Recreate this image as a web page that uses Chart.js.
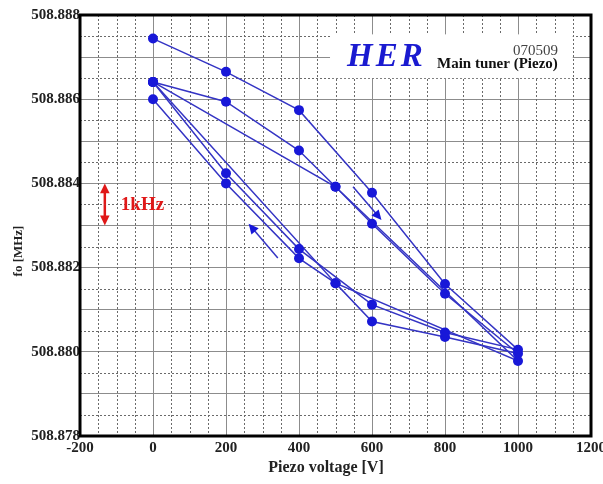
<!DOCTYPE html>
<html>
<head>
<meta charset="utf-8">
<title>HER Main tuner (Piezo)</title>
<script src="https://cdn.jsdelivr.net/npm/chart.js"></script>
<style>
  html, body { margin: 0; padding: 0; background: #fff; }
</style>
</head>
<body>
<canvas id="tuner" width="603" height="484"></canvas>
<script>
// Piezo voltage [V] vs. resonant frequency fo [MHz], three up/down sweeps.
const loopA_volt = [0, 200, 400, 600, 800, 1000, 800, 600, 400, 200, 0];
const loopA_freq = [508.88744, 508.88665, 508.88574, 508.88378, 508.88161, 508.88005,
                    508.88046, 508.88112, 508.88244, 508.88424, 508.88641];

const loopB_volt = [0, 200, 400, 500, 600, 800, 1000, 800, 600, 500, 400, 200, 0];
const loopB_freq = [508.88641, 508.88594, 508.88478, 508.88392, 508.88304, 508.88138, 508.87996,
                    508.88035, 508.88072, 508.88163, 508.88222, 508.88400, 508.88600];

const loopC_volt = [0, 500, 1000, 500, 0];
const loopC_freq = [508.88641, 508.88392, 508.87978, 508.88163, 508.88641];

// axis ranges / ticks
const voltMin = -200, voltMax = 1200, voltStep = 200;
const freqMin = 508.878, freqMax = 508.888, freqStep = 0.001;

// direction arrows (tail volt, tail freq, tip volt, tip freq)
const sweepArrows = [
  [548, 508.88392, 626, 508.88313],
  [342, 508.88223, 262, 508.88304]
];

const blue = '#1818d8';
const lineBlue = '#3434c4';
const serif = '"Liberation Serif", "Times New Roman", serif';

function toPoints(xs, ys) {
  return xs.map((v, i) => ({ x: v, y: ys[i] }));
}

function loopDataset(xs, ys) {
  return {
    data: toPoints(xs, ys),
    showLine: true,
    borderColor: lineBlue,
    borderWidth: 1.5,
    backgroundColor: blue,
    pointBackgroundColor: blue,
    pointBorderWidth: 0,
    pointRadius: 5,
    tension: 0
  };
}

function arrow(ctx, x1, y1, x2, y2, head) {
  const ang = Math.atan2(y2 - y1, x2 - x1);
  ctx.beginPath();
  ctx.moveTo(x1, y1);
  ctx.lineTo(x2 - Math.cos(ang) * head * 0.8, y2 - Math.sin(ang) * head * 0.8);
  ctx.stroke();
  ctx.beginPath();
  ctx.moveTo(x2, y2);
  ctx.lineTo(x2 - head * Math.cos(ang - 0.45), y2 - head * Math.sin(ang - 0.45));
  ctx.lineTo(x2 - head * Math.cos(ang + 0.45), y2 - head * Math.sin(ang + 0.45));
  ctx.closePath();
  ctx.fill();
}

const decor = {
  id: 'decor',
  beforeDatasetsDraw(chart) {
    const ctx = chart.ctx, xs = chart.scales.x, ys = chart.scales.y, a = chart.chartArea;
    ctx.save();
    // dotted minor grid
    ctx.strokeStyle = '#6a6a6a';
    ctx.lineWidth = 1;
    ctx.setLineDash([2, 2]);
    for (let v = voltMin + 50; v < voltMax; v += 50) {
      if (v % 200 === 0) continue;
      const px = Math.round(xs.getPixelForValue(v)) + 0.5;
      ctx.beginPath(); ctx.moveTo(px, a.top); ctx.lineTo(px, a.bottom); ctx.stroke();
    }
    for (let k = 1; k < 20; k += 2) {
      const py = Math.round(ys.getPixelForValue(freqMin + k * 0.0005)) + 0.5;
      ctx.beginPath(); ctx.moveTo(a.left, py); ctx.lineTo(a.right, py); ctx.stroke();
    }
    ctx.setLineDash([]);

    // title box
    const bx = xs.getPixelForValue(485), by = ys.getPixelForValue(508.88754);
    const bw = xs.getPixelForValue(1150) - bx, bh = ys.getPixelForValue(508.8865) - by;
    ctx.fillStyle = '#fff';
    ctx.fillRect(bx, by, bw, bh);

    ctx.textBaseline = 'alphabetic';
    ctx.textAlign = 'left';
    ctx.fillStyle = '#1a1ad0';
    ctx.font = 'bold italic 33px ' + serif;
    if ('letterSpacing' in ctx) ctx.letterSpacing = '3px';
    ctx.fillText('HER', bx + 17, by + 32);
    if ('letterSpacing' in ctx) ctx.letterSpacing = '0px';
    ctx.fillStyle = '#111';
    ctx.font = 'bold 15px ' + serif;
    ctx.fillText('Main tuner (Piezo)', bx + 107, by + 34);
    ctx.fillStyle = '#444';
    ctx.font = '15px ' + serif;
    ctx.fillText('070509', bx + 183, by + 21);

    // 1 kHz scale marker
    const mx = xs.getPixelForValue(-132);
    const mTop = ys.getPixelForValue(508.884), mBot = ys.getPixelForValue(508.883);
    const mMid = (mTop + mBot) / 2;
    ctx.strokeStyle = '#e01818';
    ctx.fillStyle = '#e01818';
    ctx.lineWidth = 2.5;
    arrow(ctx, mx, mMid, mx, mTop, 11);
    arrow(ctx, mx, mMid, mx, mBot, 11);
    ctx.font = 'bold 19px ' + serif;
    ctx.textBaseline = 'middle';
    ctx.fillText('1kHz', mx + 16, mMid + 1);
    ctx.restore();
  },
  afterDatasetsDraw(chart) {
    const ctx = chart.ctx, xs = chart.scales.x, ys = chart.scales.y;
    ctx.save();
    ctx.strokeStyle = lineBlue;
    ctx.fillStyle = blue;
    ctx.lineWidth = 1.5;
    sweepArrows.forEach(r => {
      arrow(ctx, xs.getPixelForValue(r[0]), ys.getPixelForValue(r[1]),
                 xs.getPixelForValue(r[2]), ys.getPixelForValue(r[3]), 11);
    });
    ctx.restore();
  },
  afterDraw(chart) {
    const ctx = chart.ctx, a = chart.chartArea;
    ctx.save();
    ctx.strokeStyle = '#000';
    ctx.lineWidth = 3;
    ctx.strokeRect(a.left, a.top, a.right - a.left, a.bottom - a.top);

    ctx.fillStyle = '#222';
    ctx.textAlign = 'center';
    ctx.textBaseline = 'middle';
    ctx.font = 'bold 16px ' + serif;
    ctx.fillText('Piezo voltage [V]', 326, 468);
    ctx.font = 'bold 13px ' + serif;
    ctx.translate(19, 251);
    ctx.rotate(-Math.PI / 2);
    ctx.fillText('fo [MHz]', 0, 0);
    ctx.restore();
  }
};

new Chart(document.getElementById('tuner'), {
  type: 'scatter',
  data: {
    datasets: [
      loopDataset(loopA_volt, loopA_freq),
      loopDataset(loopB_volt, loopB_freq),
      loopDataset(loopC_volt, loopC_freq)
    ]
  },
  options: {
    responsive: false,
    animation: false,
    events: [],
    layout: { autoPadding: false, padding: { top: 15, right: 12, left: 0, bottom: 0 } },
    plugins: { legend: { display: false }, tooltip: { enabled: false } },
    scales: {
      x: {
        type: 'linear',
        min: voltMin, max: voltMax,
        afterFit(scale) {
          scale.height = 48;
          scale.paddingLeft = 0;
          scale.paddingRight = 0;
        },
        border: { display: false },
        grid: { color: '#8c8c8c', lineWidth: 1, drawTicks: false },
        ticks: {
          stepSize: voltStep,
          padding: 3,
          color: '#222',
          font: { family: serif, size: 15, weight: 'bold' },
          maxRotation: 0,
          callback: v => String(v)
        }
      },
      y: {
        type: 'linear',
        min: freqMin, max: freqMax,
        afterFit(scale) {
          scale.width = 80;
          scale.paddingTop = 0;
          scale.paddingBottom = 0;
        },
        border: { display: false },
        grid: { color: '#8c8c8c', lineWidth: 1, drawTicks: false },
        ticks: {
          stepSize: freqStep,
          padding: 0,
          color: '#222',
          font: { family: serif, size: 15, weight: 'bold' },
          callback: v => (Math.round(v * 1000) % 2 === 0 ? v.toFixed(3) : '')
        }
      }
    }
  },
  plugins: [decor]
});
</script>
</body>
</html>
